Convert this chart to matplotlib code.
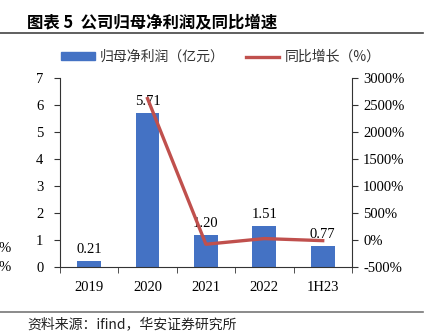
import matplotlib
matplotlib.use('Agg')
from matplotlib import pyplot as plt
from matplotlib.lines import Line2D
from matplotlib.patches import Patch

plt.rcParams['font.family'] = ['Noto Sans CJK SC', 'DejaVu Sans']

# data
years = ['2019', '2020', '2021', '2022', '1H23']
profit = [0.21, 5.71, 1.20, 1.51, 0.77]            # 归母净利润 (亿元)
growth_years = ['2020', '2021', '2022', '1H23']
growth = [2619, -79, 26, -12]                        # 同比增长 (%)
left_ticks = [0, 1, 2, 3, 4, 5, 6, 7]
right_ticks = [-500, 0, 500, 1000, 1500, 2000, 2500, 3000]

serif = 'Liberation Serif'
blue = '#4472C4'
red = '#C0504D'

fig = plt.figure(figsize=(4.25, 3.34), dpi=100)
ax = fig.add_axes([0.141, 0.2006, 0.687, 0.566])

x = list(range(len(years)))
ax.bar(x, profit, width=0.41, color=blue, zorder=2)
for xi, v in zip(x, profit):
    ax.text(xi, v + 0.18, '%.2f' % v, ha='center', va='bottom',
            fontsize=10.5, family=serif)

ax.set_xlim(-0.5, len(years) - 0.5)
ax.set_ylim(0, 7)
ax.set_yticks(left_ticks)
ax.set_yticklabels([str(t) for t in left_ticks], family=serif, fontsize=10.5)
ax.set_xticks(x)
ax.set_xticklabels(years, family=serif, fontsize=10.5)
ax.tick_params(axis='x', length=0, pad=10)
# category boundary ticks on the x axis
ax.set_xticks([i - 0.5 for i in range(len(years) + 1)], minor=True)
ax.tick_params(axis='x', which='minor', length=4, direction='out', color='#333333')
ax.tick_params(axis='y', length=4, direction='out', color='#333333', pad=8)
for s in ['top', 'right']:
    ax.spines[s].set_visible(False)
ax.spines['left'].set_color('#333333')
ax.spines['bottom'].set_color('#333333')

ax2 = ax.twinx()
gx = [years.index(y) for y in growth_years]
ax2.plot(gx, growth, color=red, lw=2.4, zorder=3)
ax2.set_ylim(-500, 3000)
ax2.set_yticks(right_ticks)
ax2.set_yticklabels(['%d%%' % t for t in right_ticks], family=serif, fontsize=10.5)
ax2.tick_params(axis='y', length=4, direction='out', color='#333333', pad=4)
for s in ['top', 'left', 'bottom']:
    ax2.spines[s].set_visible(False)
ax2.spines['right'].set_color('#333333')

handles = [Patch(color=blue), Line2D([0], [0], color=red, lw=2.4)]
fig.legend(handles, ['归母净利润（亿元）', '同比增长（%）'], loc='center',
           bbox_to_anchor=(0.52, 0.829), ncol=2, frameon=False, fontsize=10,
           handlelength=2.4, handleheight=0.5, columnspacing=1.5, handletextpad=0.4,
           labelcolor='#333333')

fig.text(0.064, 0.934, '图表 5  公司归母净利润及同比增速', fontsize=11.8,
         fontweight='bold', va='center')
fig.add_artist(Line2D([0.0, 0.995], [0.901, 0.901], color='#444444', lw=1.2))
fig.add_artist(Line2D([0.0, 0.995], [0.067, 0.067], color='#777777', lw=1.2))
fig.text(0.064, 0.028, '资料来源：ifind，华安证券研究所', fontsize=10, va='center',
         color='#222222')

# cut-off labels at the far left edge of the reference
fig.text(-0.004, 0.257, '%', fontsize=10.5, family=serif, va='center')
fig.text(-0.004, 0.2, '%', fontsize=10.5, family=serif, va='center')

fig.savefig('out.png', dpi=100)
